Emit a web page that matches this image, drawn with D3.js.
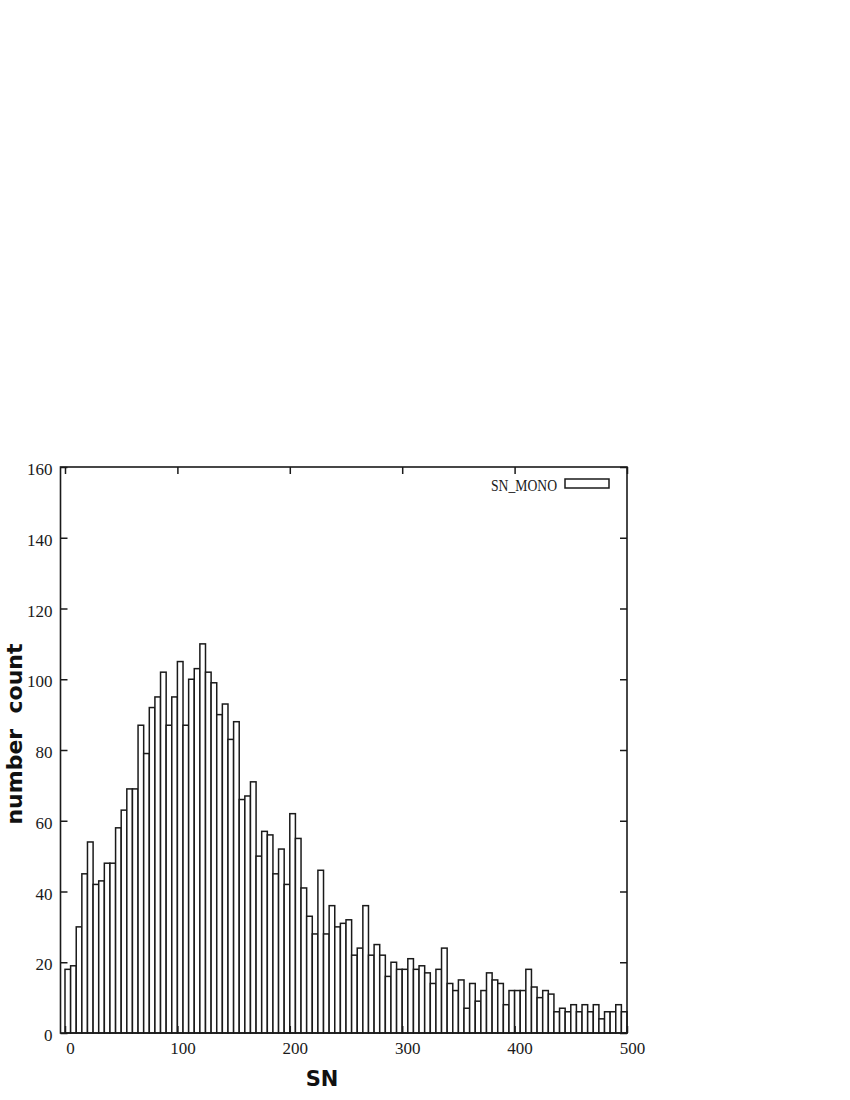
<!DOCTYPE html>
<html>
  <head>
    <meta charset="UTF-8">
    <title>SN histogram</title>
    <script src="https://d3js.org/d3.v7.min.js"></script>
    <style>
      body { margin: 0; background: #fff; }
    </style>
  </head>
  <body>
    <div id="chart"></div>
    <script>
      // histogram counts, one per bin of width 5 starting at SN = 0
      const binWidth = 5;
      const counts = [
        18, 19, 30, 45, 54, 42, 43, 48, 48, 58,
        63, 69, 69, 87, 79, 92, 95, 102, 87, 95,
        105, 87, 100, 103, 110, 102, 99, 90, 93, 83,
        88, 66, 67, 71, 50, 57, 56, 45, 52, 42,
        62, 55, 41, 33, 28, 46, 28, 36, 30, 31,
        32, 22, 24, 36, 22, 25, 22, 16, 20, 18,
        18, 21, 18, 19, 17, 14, 18, 24, 14, 12,
        15, 7, 14, 9, 12, 17, 15, 14, 8, 12,
        12, 12, 18, 13, 10, 12, 11, 6, 7, 6,
        8, 6, 8, 6, 8, 4, 6, 6, 8, 6
      ];
      const xTicks = [0, 100, 200, 300, 400, 500];
      const yTicks = [0, 20, 40, 60, 80, 100, 120, 140, 160];
      const seriesName = "SN_MONO";
      const xLabel = "SN";
      const yLabel = "number  count";

      const W = 850, H = 1100;
      const plotLeft = 60.5, plotRight = 627, plotTop = 467, plotBottom = 1033;

      const svg = d3.select("#chart").append("svg")
        .attr("width", W)
        .attr("height", H);

      const x = d3.scaleLinear().domain([-4, 500]).range([plotLeft, plotRight]);
      const y = d3.scaleLinear().domain([0, 160]).range([plotBottom, plotTop]);

      const tickFont = "'Liberation Serif', 'DejaVu Serif', serif";

      // bars
      svg.append("g")
        .selectAll("rect")
        .data(counts)
        .join("rect")
        .attr("x", (d, i) => x(i * binWidth))
        .attr("y", d => y(d))
        .attr("width", (d, i) => x((i + 1) * binWidth) - x(i * binWidth))
        .attr("height", d => y(0) - y(d))
        .attr("fill", "#fff")
        .attr("stroke", "#1a1a1a")
        .attr("stroke-width", 1.5);

      // axes with inward ticks, mirrored on top and right
      const gLeft = svg.append("g")
        .attr("transform", `translate(${plotLeft},0)`)
        .call(d3.axisLeft(y).tickValues(yTicks).tickSizeInner(-7).tickSizeOuter(0).tickPadding(8));
      gLeft.selectAll("text").attr("dy", "0.45em");

      const gBottom = svg.append("g")
        .attr("transform", `translate(0,${plotBottom})`)
        .call(d3.axisBottom(x).tickValues(xTicks).tickSizeInner(-7).tickSizeOuter(0).tickPadding(9));
      gBottom.selectAll("text").attr("dx", 5);

      svg.append("g")
        .attr("transform", `translate(0,${plotTop})`)
        .call(d3.axisTop(x).tickValues(xTicks).tickSizeInner(-7).tickSizeOuter(0).tickFormat(""));

      svg.append("g")
        .attr("transform", `translate(${plotRight},0)`)
        .call(d3.axisRight(y).tickValues(yTicks).tickSizeInner(-7).tickSizeOuter(0).tickFormat(""));

      svg.selectAll(".domain").remove();
      svg.selectAll(".tick line").attr("stroke", "#1a1a1a").attr("stroke-width", 1.5);
      svg.selectAll(".tick text")
        .attr("fill", "#1a1a1a")
        .style("font-family", tickFont)
        .style("font-size", "17px");

      // border
      svg.append("rect")
        .attr("x", plotLeft)
        .attr("y", plotTop)
        .attr("width", plotRight - plotLeft)
        .attr("height", plotBottom - plotTop)
        .attr("fill", "none")
        .attr("stroke", "#1a1a1a")
        .attr("stroke-width", 1.6);

      // legend
      svg.append("text")
        .attr("x", 557)
        .attr("y", 491)
        .attr("text-anchor", "end")
        .attr("fill", "#1a1a1a")
        .attr("textLength", 66)
        .attr("lengthAdjust", "spacingAndGlyphs")
        .style("font-family", tickFont)
        .style("font-size", "16px")
        .text(seriesName);
      svg.append("rect")
        .attr("x", 565)
        .attr("y", 479)
        .attr("width", 44)
        .attr("height", 9)
        .attr("fill", "#fff")
        .attr("stroke", "#1a1a1a")
        .attr("stroke-width", 1.5);

      // axis titles
      svg.append("text")
        .attr("x", 322)
        .attr("y", 1086)
        .attr("text-anchor", "middle")
        .attr("fill", "#111")
        .style("font-family", "'DejaVu Sans', sans-serif")
        .style("font-weight", "bold")
        .style("font-size", "21px")
        .text(xLabel);

      svg.append("text")
        .attr("transform", "translate(22,734) rotate(-90)")
        .attr("text-anchor", "middle")
        .attr("fill", "#111")
        .style("font-family", "'DejaVu Sans', sans-serif")
        .style("font-weight", "bold")
        .style("font-size", "22px")
        .style("white-space", "pre")
        .text(yLabel);
    </script>
  </body>
</html>
